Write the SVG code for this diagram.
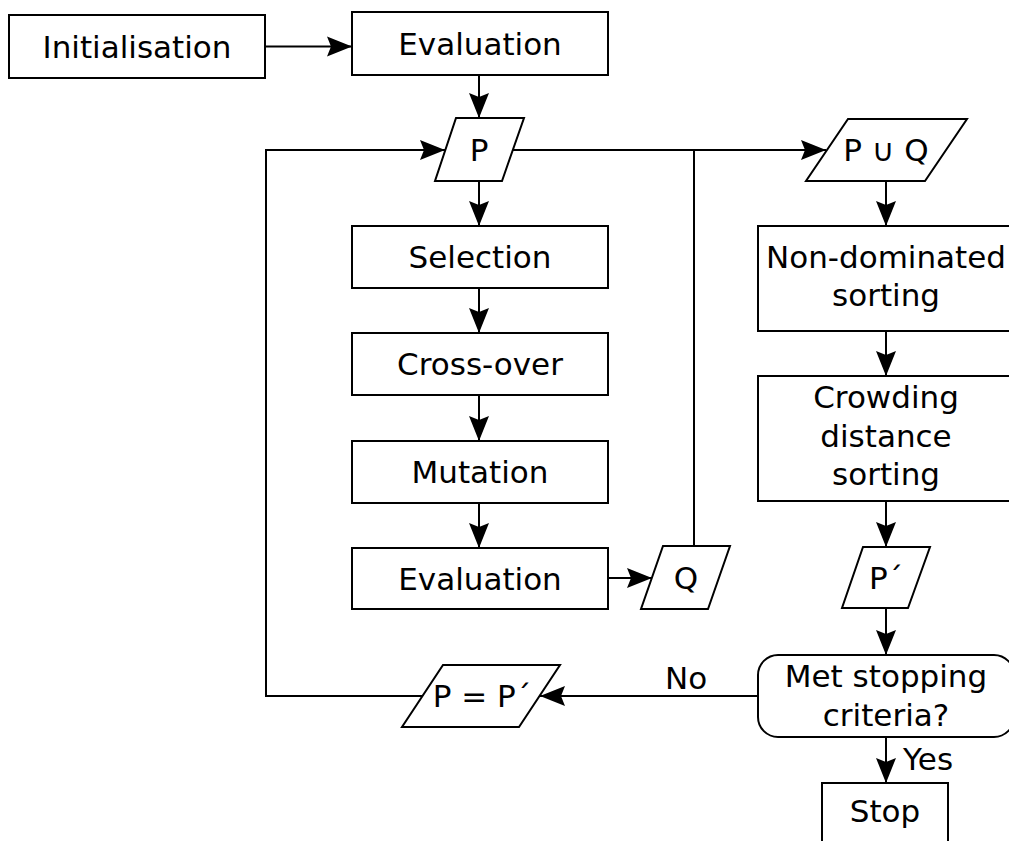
<svg xmlns="http://www.w3.org/2000/svg" width="1009" height="841" viewBox="0 0 1009 841">
  <style>
    .box { fill: #ffffff; stroke: #000000; stroke-width: 2; }
    .lbl { font-family: "DejaVu Sans", Verdana, sans-serif; font-size: 31px; fill: #000000; text-anchor: middle; }
    .edge { fill: none; stroke: #000000; stroke-width: 2; }
    .arrow { marker-end: url(#head); }
    .note { font-family: "DejaVu Sans", Verdana, sans-serif; font-size: 31px; fill: #000000; }
  </style>
  <defs>
    <marker id="head" markerUnits="userSpaceOnUse" markerWidth="28" markerHeight="22" refX="25" refY="10" orient="auto" overflow="visible">
      <path d="M0,0 L25,10 L0,20 L4,10 Z" fill="#000000"/>
    </marker>
  </defs>
  <rect width="1009" height="841" fill="#ffffff"/>

  <!-- connectors -->
  <g id="connectors">
    <path class="edge arrow" d="M265,46.5 H352"/>
    <path class="edge arrow" d="M479,75 V118"/>
    <path class="edge arrow" d="M479,181 V226"/>
    <path class="edge arrow" d="M479,288 V333"/>
    <path class="edge arrow" d="M479,395 V441"/>
    <path class="edge arrow" d="M479,503 V548"/>
    <path class="edge arrow" d="M608,578 H652"/>
    <path class="edge" d="M694,546 V150"/>
    <path class="edge arrow" d="M513,150 H826"/>
    <path class="edge arrow" d="M886,181 V226"/>
    <path class="edge arrow" d="M886,331 V376"/>
    <path class="edge arrow" d="M886,501 V547"/>
    <path class="edge arrow" d="M886,608 V655"/>
    <path class="edge arrow" d="M886,737 V783"/>
    <path class="edge arrow" d="M758,696 H540"/>
    <path class="edge arrow" d="M422,696 H266 V150 H445"/>
    <text class="note" x="665" y="689">No</text>
    <text class="note" x="903" y="770">Yes</text>
  </g>

  <g id="initialisation">
    <rect class="box" x="9" y="15" width="256" height="63"/>
    <text class="lbl" x="137" y="58">Initialisation</text>
  </g>

  <g id="evaluation-initial">
    <rect class="box" x="352" y="12" width="256" height="63"/>
    <text class="lbl" x="480" y="55">Evaluation</text>
  </g>

  <g id="population-p">
    <polygon class="box" points="456,118 524,118 502,181 435,181"/>
    <text class="lbl" x="479" y="161">P</text>
  </g>

  <g id="selection">
    <rect class="box" x="352" y="226" width="256" height="62"/>
    <text class="lbl" x="480" y="268">Selection</text>
  </g>

  <g id="crossover">
    <rect class="box" x="352" y="333" width="256" height="62"/>
    <text class="lbl" x="480" y="375">Cross-over</text>
  </g>

  <g id="mutation">
    <rect class="box" x="352" y="441" width="256" height="62"/>
    <text class="lbl" x="480" y="483">Mutation</text>
  </g>

  <g id="evaluation-offspring">
    <rect class="box" x="352" y="548" width="256" height="61"/>
    <text class="lbl" x="480" y="590">Evaluation</text>
  </g>

  <g id="offspring-q">
    <polygon class="box" points="663,546 730,546 708,609 641,609"/>
    <text class="lbl" x="686" y="589">Q</text>
  </g>

  <g id="union">
    <polygon class="box" points="848,119 967,119 925,181 806,181"/>
    <text class="lbl" x="886" y="161">P ∪ Q</text>
  </g>

  <g id="non-dominated-sorting">
    <rect class="box" x="758" y="226" width="256" height="105"/>
    <text class="lbl" x="886" y="268">Non-dominated</text>
    <text class="lbl" x="886" y="306">sorting</text>
  </g>

  <g id="crowding-distance-sorting">
    <rect class="box" x="758" y="376" width="256" height="125"/>
    <text class="lbl" x="886" y="408">Crowding</text>
    <text class="lbl" x="886" y="447">distance</text>
    <text class="lbl" x="886" y="485">sorting</text>
  </g>

  <g id="new-population">
    <polygon class="box" points="863,547 930,547 908,608 842,608"/>
    <text class="lbl" x="886" y="589">P´</text>
  </g>

  <g id="stopping-criteria">
    <rect class="box" x="758" y="655" width="256" height="82" rx="20" ry="20"/>
    <text class="lbl" x="886" y="687">Met stopping</text>
    <text class="lbl" x="886" y="726">criteria?</text>
  </g>

  <g id="replace-population">
    <polygon class="box" points="443,665 560,665 519,727 402,727"/>
    <text class="lbl" x="482" y="707">P = P´</text>
  </g>

  <g id="stop">
    <rect class="box" x="822" y="783" width="126" height="70"/>
    <text class="lbl" x="885" y="822">Stop</text>
  </g>
</svg>
